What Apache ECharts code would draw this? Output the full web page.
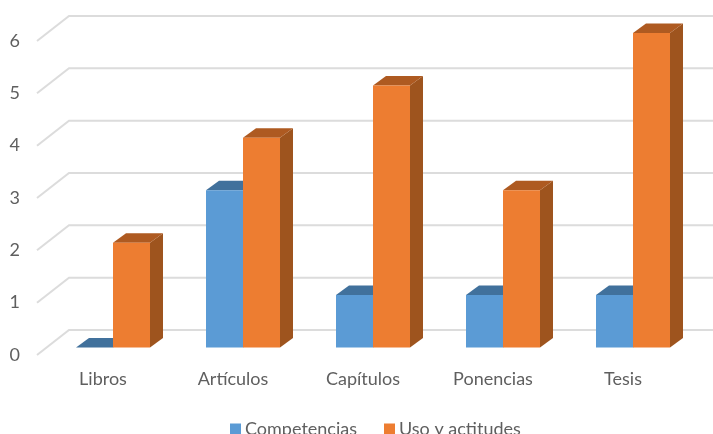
<!DOCTYPE html>
<html><head><meta charset="utf-8">
<style>html,body{margin:0;padding:0;background:#fff}#c{width:713px;height:434px}</style>
<script src="https://cdn.jsdelivr.net/npm/echarts@6/dist/echarts.min.js"></script>
</head><body><div id="c"></div>
<script>
const categories = ['Libros','Artículos','Capítulos','Ponencias','Tesis'];
const competencias = [0,3,1,1,1];
const usoActitudes = [2,4,5,3,6];
const yTicks = [0,1,2,3,4,5,6];

const FONT = 'Lato';
const TEXT = '#5f5f5f';
const BAR_SHARE = 0.2846, DEPTH_X = 13, DEPTH_Y = 9.5;
const WALL_X = 32, WALL_Y = 25;

function barRender(offset, front, top, side) {
  return function (params, api) {
    const p = api.coord([api.value(0), api.value(1)]);
    const base = api.coord([api.value(0), 0]);
    const w = api.size([1, 0])[0] * BAR_SHARE;
    const x0 = p[0] + offset * w, x1 = x0 + w, yT = p[1], yB = base[1];
    const kids = [
      {type:'polygon', shape:{points:[[x1,yT],[x1+DEPTH_X,yT-DEPTH_Y],[x1+DEPTH_X,yB-DEPTH_Y],[x1,yB]]}, style:{fill:side}},
      {type:'polygon', shape:{points:[[x0,yT],[x0+DEPTH_X,yT-DEPTH_Y],[x1+DEPTH_X,yT-DEPTH_Y],[x1,yT]]}, style:{fill:top}}
    ];
    if (yB > yT) kids.push({type:'rect', shape:{x:x0,y:yT,width:w,height:yB-yT}, style:{fill:front}});
    return {type:'group', children:kids};
  };
}
function wallRender(params, api) {
  const a = api.coord([0, api.value(0)]);
  const b = api.coord([1, api.value(0)]);
  return {type:'polyline', shape:{points:[[a[0],a[1]],[a[0]+WALL_X,a[1]-WALL_Y],[b[0],b[1]-WALL_Y]]},
    style:{fill:null, stroke:'#dcdcdc', lineWidth:2}};
}

const chart = echarts.init(document.getElementById('c'), null, {renderer:'canvas'});
chart.setOption({
  animation:false,
  backgroundColor:'#fff',
  grid:[
    {left:48, width:650, top:33, height:314.5},
    {left:37, width:676, top:41, height:314}
  ],
  xAxis:[
    {type:'category', gridIndex:0, data:categories, axisLine:{show:false}, axisTick:{show:false},
      axisLabel:{interval:0, margin:23, padding:[0,20,0,0], color:TEXT, fontFamily:FONT, fontSize:18}},
    {type:'value', gridIndex:1, min:0, max:1, show:false}
  ],
  yAxis:[
    {type:'value', gridIndex:0, min:0, max:6, interval:1, show:false},
    {type:'value', gridIndex:1, min:0, max:6, interval:1, axisLine:{show:false}, axisTick:{show:false}, splitLine:{show:false},
      axisLabel:{margin:17, padding:[4,0,0,0], color:TEXT, fontFamily:FONT, fontSize:18}}
  ],
  legend:{
    data:['Competencias','Uso y actitudes'], left:225, top:415.5, itemWidth:11, itemHeight:12, itemGap:27,
    icon:'rect', textStyle:{color:TEXT, fontFamily:FONT, fontSize:18, padding:[0,0,0,-1]}, selectedMode:false
  },
  series:[
    {type:'custom', name:'Pared', xAxisIndex:1, yAxisIndex:1, data:yTicks.map(v=>[v]), encode:{y:0}, renderItem:wallRender, silent:true, z:1, clip:false},
    {type:'custom', name:'Competencias', xAxisIndex:0, yAxisIndex:0, itemStyle:{color:'#5B9BD5'},
      data:competencias.map((v,i)=>[i,v]), encode:{x:0,y:1}, renderItem:barRender(-1,'#5B9BD5','#41719C','#41719C'), z:2, clip:false},
    {type:'custom', name:'Uso y actitudes', xAxisIndex:0, yAxisIndex:0, itemStyle:{color:'#ED7D31'},
      data:usoActitudes.map((v,i)=>[i,v]), encode:{x:0,y:1}, renderItem:barRender(0,'#ED7D31','#AE5A21','#9E541E'), z:3, clip:false}
  ]
});
</script></body></html>
